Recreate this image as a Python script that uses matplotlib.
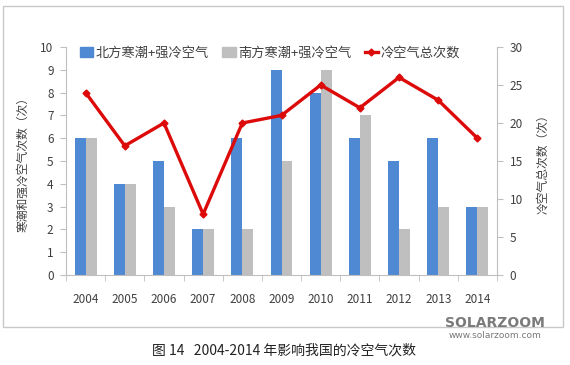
import numpy as np
import matplotlib.pyplot as plt
from matplotlib.patches import Rectangle
from matplotlib.lines import Line2D
from matplotlib.patches import Patch

plt.rcParams['font.family'] = ['Noto Sans CJK SC', 'DejaVu Sans']

years = ['2004', '2005', '2006', '2007', '2008', '2009', '2010', '2011', '2012', '2013', '2014']
north = [6, 4, 5, 2, 6, 9, 8, 6, 5, 6, 3]
south = [6, 4, 3, 2, 2, 5, 9, 7, 2, 3, 3]
total = [24, 17, 20, 8, 20, 21, 25, 22, 26, 23, 18]

blue = '#4F88D3'
grey = '#BFBFBF'
red = '#DD0A0A'
axis_grey = '#BFBFBF'
text_col = '#404040'


def main():
    fig = plt.figure(figsize=(5.7, 3.65), dpi=100)
    ax = fig.add_axes([66 / 570, 1 - 275 / 365, 431 / 570, 228 / 365])
    x = np.arange(len(years))
    w = 0.28
    ax.bar(x - w / 2, north, w, color=blue, zorder=2)
    ax.bar(x + w / 2, south, w, color=grey, zorder=2)
    ax.set_xlim(-0.5, len(years) - 0.5)
    ax.set_ylim(0, 10)
    ax.set_yticks(range(0, 11))
    ax.set_xticks(x)
    ax.set_xticklabels(years)
    ax.set_xticks(np.arange(-0.5, len(years)), minor=True)
    ax.tick_params(axis='x', which='major', length=0, pad=13, labelsize=8.5, labelcolor=text_col)
    ax.tick_params(axis='x', which='minor', length=4, color=axis_grey, direction='out')
    ax.tick_params(axis='y', length=4, color=axis_grey, labelsize=8.5, labelcolor=text_col, pad=5)
    for s in ['top', 'right']:
        ax.spines[s].set_visible(False)
    ax.spines['left'].set_color(axis_grey)
    ax.spines['bottom'].set_color(axis_grey)
    ax.set_ylabel('寒潮和强冷空气次数（次）', fontsize=8.5, color=text_col, labelpad=8)

    ax2 = ax.twinx()
    ax2.plot(x, total, color=red, lw=2.4, marker='D', ms=3.5, zorder=3)
    ax2.set_ylim(0, 30)
    ax2.set_yticks(range(0, 31, 5))
    ax2.tick_params(axis='y', length=4, color=axis_grey, labelsize=8.5, labelcolor=text_col, pad=5)
    for s in ['top', 'left', 'bottom']:
        ax2.spines[s].set_visible(False)
    ax2.spines['right'].set_color(axis_grey)
    ax2.set_ylabel('冷空气总次数（次）', fontsize=8.5, color=text_col, labelpad=10)

    handles = [Patch(color=blue), Patch(color=grey),
               Line2D([0], [0], color=red, lw=2.4, marker='D', ms=3.5)]
    labels = ['北方寒潮+强冷空气', '南方寒潮+强冷空气', '冷空气总次数']
    fig.legend(handles, labels, loc='center', bbox_to_anchor=(270 / 570, 1 - 53 / 365),
               ncol=3, frameon=False, fontsize=9.5, handlelength=1.0, handleheight=0.7,
               handletextpad=0.2, columnspacing=1.0, labelcolor=text_col)

    fig.patches.append(Rectangle((3 / 570, 1 - 327 / 365), 560 / 570, 321 / 365,
                                 transform=fig.transFigure, fill=False,
                                 edgecolor='#C8C8C8', lw=1))

    fig.text(284 / 570, 1 - 351 / 365, '图 14   2004-2014 年影响我国的冷空气次数',
             ha='center', va='center', fontsize=10, color='#222222')
    fig.text(495 / 570, 1 - 323 / 365, 'SOLARZOOM', ha='center', va='center',
             fontsize=10, fontweight='bold', color='#7A7A7A', family='DejaVu Sans')
    fig.text(495 / 570, 1 - 336 / 365, 'www.solarzoom.com', ha='center', va='center',
             fontsize=6.5, color='#7A7A7A', family='DejaVu Sans')

    fig.savefig('out.png', dpi=100)


if __name__ == "__main__":
    main()
